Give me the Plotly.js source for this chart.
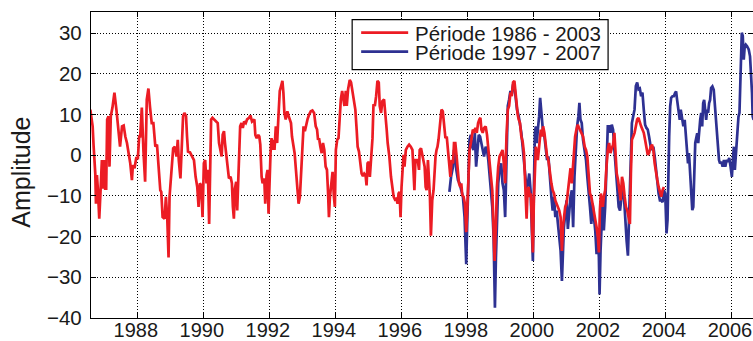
<!DOCTYPE html>
<html>
<head>
<meta charset="utf-8">
<script src="https://cdn.plot.ly/plotly-3.0.1.min.js"></script>
<style>
  html, body { margin: 0; padding: 0; background: #ffffff; }
  #chart { width: 753px; height: 341px; }
</style>
</head>
<body>
<div id="chart"></div>
<script>
// Series 1: Période 1986 - 2003 (decimal years, amplitude)
const redYears = [
  1986.56,1986.63,1986.66,1986.71,1986.73,1986.76,1986.79,1986.83,1986.87,1986.91,1986.94,1986.98,
  1987.01,1987.04,1987.07,1987.11,1987.14,1987.18,1987.23,1987.29,1987.35,1987.41,1987.46,1987.52,
  1987.57,1987.62,1987.67,1987.72,1987.77,1987.82,1987.85,1987.90,1987.95,
  1988.00,1988.04,1988.07,1988.12,1988.17,1988.22,1988.27,1988.32,1988.37,1988.42,1988.47,1988.53,
  1988.58,1988.63,1988.68,1988.71,1988.75,1988.81,1988.85,1988.89,1988.93,1988.96,
  1989.02,1989.07,1989.12,1989.17,1989.21,1989.24,1989.29,1989.33,1989.37,1989.41,1989.46,1989.49,
  1989.52,1989.58,1989.65,1989.70,1989.75,1989.80,1989.84,1989.88,1989.92,1989.96,
  1990.00,1990.04,1990.08,1990.12,1990.16,1990.19,1990.22,1990.26,1990.32,1990.38,1990.42,1990.46,
  1990.51,1990.54,1990.57,1990.61,1990.64,1990.68,1990.73,1990.76,1990.81,1990.85,1990.88,1990.91,
  1990.94,1990.98,1991.01,1991.04,1991.07,1991.10,1991.14,1991.18,1991.22,1991.27,1991.31,1991.37,
  1991.41,1991.46,
  1991.53,1991.56,1991.60,1991.65,1991.68,1991.71,1991.75,1991.78,1991.83,1991.86,1991.90,1991.93,
  1991.96,1991.99,1992.02,1992.05,1992.08,1992.11,1992.14,1992.18,1992.22,1992.26,1992.30,1992.34,
  1992.38,1992.41,1992.44,1992.48,1992.53,1992.57,1992.61,1992.64,1992.67,1992.71,1992.75,1992.79,
  1992.83,1992.87,1992.91,1992.95,1992.99,1993.02,1993.06,1993.10,1993.14,1993.19,1993.24,1993.29,
  1993.34,1993.39,1993.43,1993.46,1993.49,1993.53,1993.57,1993.61,1993.65,1993.69,1993.73,1993.76,
  1993.79,1993.82,1993.86,1993.90,1993.94,1993.97,1994.00,
  1994.04,1994.08,1994.11,1994.15,1994.19,1994.23,1994.26,1994.30,1994.33,1994.37,1994.42,1994.46,
  1994.51,1994.55,1994.59,1994.63,1994.66,1994.70,1994.74,1994.78,1994.82,1994.86,1994.90,1994.93,
  1994.96,1995.00,1995.03,1995.07,1995.11,1995.14,1995.18,1995.22,1995.26,1995.30,1995.33,1995.37,
  1995.41,1995.46,1995.49,1995.54,1995.57,1995.62,1995.67,1995.71,1995.75,1995.79,1995.83,1995.87,
  1995.90,1995.93,1995.96,1995.99,1996.03,1996.05,1996.08,1996.12,1996.17,1996.22,1996.27,1996.32,
  1996.35,1996.38,1996.41,
  1996.48,1996.52,1996.54,1996.58,1996.62,1996.66,1996.69,1996.72,1996.75,1996.79,1996.82,1996.85,
  1996.88,1996.92,1996.96,1996.99,1997.02,1997.05,1997.08,1997.11,1997.14,1997.17,1997.20,1997.24,
  1997.28,1997.32,1997.36,1997.40,1997.44,1997.47,1997.51,1997.55,1997.58,1997.62,1997.65,1997.69,
  1997.73,1997.77,1997.80,1997.83,1997.87,1997.91,1997.95,1997.98,1998.02,1998.05,1998.09,1998.12,
  1998.15,1998.19,1998.23,1998.27,1998.31,1998.35,1998.38,1998.41,1998.45,1998.49,1998.54,1998.58,
  1998.62,1998.66,1998.70,1998.74,1998.78,1998.81,1998.85,1998.88,1998.92,1998.96,
  1999.01,1999.05,1999.09,1999.13,1999.17,1999.21,1999.25,1999.29,1999.33,1999.37,1999.41,1999.44,
  1999.47,1999.51,1999.54,1999.58,1999.62,1999.66,1999.70,1999.74,1999.78,1999.81,1999.84,1999.88,
  1999.91,1999.94,1999.97,2000.00,2000.03,2000.06,2000.09,2000.12,2000.15,2000.18,2000.21,2000.24,
  2000.28,2000.32,2000.36,2000.40,2000.44,2000.48,2000.53,2000.57,2000.61,2000.65,2000.69,2000.73,
  2000.77,2000.81,2000.85,2000.88,2000.91,2000.95,2000.99,2001.03,2001.07,2001.11,2001.15,2001.18,
  2001.21,2001.25,2001.29,2001.33,2001.37,2001.41,2001.45,
  2001.49,2001.54,2001.58,2001.62,2001.66,2001.70,2001.74,2001.78,2001.82,2001.86,2001.90,2001.94,
  2001.97,2002.00,2002.03,2002.06,2002.09,2002.12,2002.16,2002.20,2002.24,2002.28,2002.32,2002.36,
  2002.40,2002.44,2002.47,2002.51,2002.55,2002.59,2002.63,2002.67,2002.71,2002.75,2002.79,2002.83,
  2002.87,2002.91,2002.94,2002.97,2003.01,2003.05,2003.09,2003.13,2003.17,2003.21,2003.25,2003.29,
  2003.33,2003.37,2003.41,2003.45,2003.49,2003.54,2003.58,2003.62,2003.66,2003.70,2003.74,2003.78,
  2003.82,2003.86,2003.90,2003.94
];
const redValues = [
  11.2,7.1,2.1,-4.5,-11.9,-4.9,-8.6,-15.6,-8.6,-1.2,-8.2,-1.2,
  -8.2,-8.2,8.8,9.6,-2.8,9.6,11.7,15.4,11.2,6.3,2.1,7.1,
  7.3,4.6,3.0,0.5,-2.0,-6.1,-2.4,-3.2,-0.7,
  -0.7,4.6,4.6,11.7,0.9,-6.5,13.7,16.4,11.7,7.9,7.9,2.1,
  2.6,-2.8,-8.6,-9.0,-15.2,-15.6,-10.2,-15.2,-25.1,-10.2,
  -2.8,1.7,2.1,-0.3,3.8,-1.2,-5.7,4.6,9.6,10.4,9.6,4.6,
  0.9,0.7,-0.3,-1.2,-5.3,-7.8,-12.7,-6.9,-7.4,-15.2,
  -2.0,-1.2,-6.9,-3.6,-16.9,2.1,8.8,9.2,8.8,8.3,7.9,3.0,
  0.9,-0.3,5.0,5.9,3.0,-0.3,-2.8,-5.7,-5.3,-6.9,-12.7,-15.6,
  -8.2,-6.5,-13.6,-5.3,3.0,7.1,7.9,6.7,8.3,7.9,8.8,9.2,
  9.8,8.3,
  8.8,5.0,4.2,5.0,4.6,2.6,-5.3,-6.9,-5.7,-11.9,-4.9,-3.6,
  -14.4,-4.5,0.5,4.2,1.3,3.8,1.3,7.1,3.0,9.6,15.8,17.0,
  18.3,15.4,10.4,8.8,10.8,9.6,8.3,7.9,4.6,2.1,0.5,-3.6,
  -8.6,-11.9,-10.2,-3.6,1.3,7.1,5.9,7.9,8.8,10.0,10.8,11.0,
  10.4,7.1,6.3,3.8,4.2,2.1,0.5,3.0,1.3,-2.8,-3.6,-8.6,
  -15.2,-10.2,-6.1,-4.1,-10.2,-12.7,1.3,
  3.8,4.2,10.0,13.7,15.8,12.9,12.1,15.8,12.1,16.2,18.5,17.9,
  15.4,12.9,11.2,6.3,2.1,0.9,-1.2,-4.5,-5.1,-4.5,-4.9,-7.4,
  -2.0,-1.6,-5.3,-0.3,4.2,12.5,12.1,14.5,18.3,17.9,12.1,10.4,
  13.3,13.7,10.0,6.3,3.0,-0.3,-5.3,-8.6,-10.2,-10.9,-10.7,-11.9,
  -9.4,-9.0,-15.2,-7.8,-0.3,0.1,-2.8,1.3,2.1,2.6,2.1,1.3,
  -3.6,-8.6,-1.2,
  -1.2,-3.6,1.3,1.7,-0.3,-1.2,-2.8,-7.8,-8.6,-1.2,-6.5,-10.2,
  -19.8,-11.1,-8.6,-3.6,-0.3,1.3,2.1,3.8,6.3,10.4,11.2,10.8,
  7.1,4.2,4.6,1.3,-3.6,-5.3,-1.2,-2.0,3.0,3.0,0.5,-3.6,
  -6.9,-7.8,-6.9,-9.8,-10.2,-11.9,-18.9,-13.6,-5.3,1.3,3.0,4.6,
  6.3,5.9,6.7,5.5,7.9,8.8,9.2,6.3,5.5,6.7,7.1,5.0,
  2.1,-1.2,-5.3,-8.6,-16.9,-26.0,-16.9,-7.8,-2.8,-0.3,
  0.5,1.3,-2.0,-6.9,4.6,11.2,12.1,15.4,14.5,17.9,18.3,15.4,
  12.1,10.0,8.8,7.9,4.6,3.4,0.5,-6.9,-15.6,-8.6,-7.8,-10.2,
  -9.4,-16.9,-23.9,-11.1,-2.0,2.1,0.5,-1.2,1.3,3.8,6.3,4.6,
  7.1,5.5,3.0,-0.3,-1.2,-4.5,-6.9,-8.6,-9.4,-11.1,-11.9,-12.7,
  -13.6,-15.2,-23.5,-17.7,-15.2,-12.7,-11.9,-8.6,-5.3,-3.2,-6.9,-3.6,
  1.3,4.6,6.3,7.5,6.7,5.9,5.0,
  4.6,2.1,1.3,-0.3,-5.3,-9.4,-10.2,-11.9,-13.6,-15.2,-17.7,-20.2,
  -23.9,-13.6,-9.4,-11.1,-12.7,-10.2,-8.6,-2.8,1.3,3.0,0.5,1.7,
  2.6,5.5,1.3,-4.5,-6.1,-8.6,-11.1,-5.3,-6.9,-10.2,-12.7,-13.6,
  -15.2,-16.9,-4.5,3.8,4.6,5.5,7.1,8.8,9.2,7.9,7.1,6.3,
  5.5,3.8,1.3,0.1,0.5,2.1,2.6,1.3,-2.0,-4.5,-6.1,-7.8,
  -9.4,-10.2,-8.6,-7.8
];

// Series 2: Période 1997 - 2007
const blueYears = [
  1997.44,1997.49,1997.55,1997.58,1997.62,1997.65,1997.70,1997.75,1997.80,1997.85,1997.90,1997.95,
  1997.98,1998.02,1998.05,1998.09,1998.13,1998.17,1998.21,1998.25,1998.29,1998.33,1998.37,1998.41,
  1998.45,1998.49,1998.54,1998.58,1998.62,1998.66,1998.70,1998.74,1998.78,1998.82,1998.85,1998.88,
  1998.92,1998.96,
  1999.01,1999.05,1999.09,1999.13,1999.17,1999.21,1999.25,1999.29,1999.33,1999.37,1999.41,1999.45,
  1999.49,1999.54,1999.58,1999.62,1999.66,1999.70,1999.74,1999.78,1999.82,1999.86,1999.90,1999.94,
  1999.97,2000.00,2000.03,2000.06,2000.09,2000.12,2000.16,2000.19,2000.22,2000.25,2000.28,2000.32,
  2000.36,2000.40,2000.44,2000.48,2000.53,2000.57,2000.61,2000.65,2000.69,2000.73,2000.77,2000.81,
  2000.85,2000.88,2000.91,2000.95,2000.99,2001.03,2001.07,2001.11,2001.15,2001.19,2001.23,2001.27,
  2001.31,2001.35,2001.38,2001.41,2001.45,
  2001.49,2001.54,2001.58,2001.62,2001.66,2001.70,2001.74,2001.78,2001.82,2001.86,2001.90,2001.94,
  2001.97,2001.99,2002.02,2002.05,2002.08,2002.12,2002.16,2002.20,2002.24,2002.28,2002.32,2002.36,
  2002.40,2002.44,2002.48,2002.53,2002.57,2002.61,2002.65,2002.69,2002.73,2002.77,2002.81,2002.85,
  2002.89,2002.93,2002.97,2003.01,2003.05,2003.09,2003.13,2003.17,2003.21,2003.25,2003.29,2003.33,
  2003.37,2003.41,2003.45,2003.49,2003.54,2003.58,2003.62,2003.66,2003.70,2003.74,2003.78,2003.82,
  2003.86,2003.90,2003.94,
  2003.98,2004.02,2004.05,2004.07,2004.10,2004.13,2004.16,2004.20,2004.24,2004.28,2004.31,2004.34,
  2004.38,2004.42,2004.45,2004.48,2004.53,2004.57,2004.61,2004.64,2004.67,2004.70,2004.73,2004.77,
  2004.80,2004.83,2004.86,2004.89,2004.92,2004.95,2004.98,2005.01,2005.04,2005.07,2005.10,2005.13,
  2005.16,2005.19,2005.22,2005.25,2005.28,2005.31,2005.34,2005.37,2005.41,2005.45,2005.48,2005.52,
  2005.55,2005.58,2005.61,2005.64,2005.68,2005.72,2005.76,2005.80,2005.84,2005.88,2005.92,2005.96,
  2006.00,2006.03,2006.06,2006.09,2006.12,2006.16,2006.20,2006.23,2006.26,2006.28,2006.30,2006.33,
  2006.36,2006.39,2006.42,2006.46,2006.51,2006.55,2006.58,2006.61,2006.63,2006.66
];
const blueValues = [
  -9.0,-5.3,-2.8,1.3,-0.3,-3.6,-6.1,-6.9,-8.6,-10.2,-15.2,-26.8,
  -16.9,-2.8,3.8,5.0,2.1,1.3,5.5,-2.8,1.3,5.0,4.6,3.0,
  1.3,-0.3,2.1,1.3,-1.2,-4.5,-9.4,-12.7,-20.2,-37.5,-25.1,-13.6,
  -6.9,-3.6,
  -2.0,-6.9,-8.6,-15.2,1.3,12.1,13.7,15.8,15.0,17.4,17.0,14.5,
  11.2,9.6,7.9,5.5,2.1,-2.0,-5.3,-8.6,-6.9,-4.5,-8.6,-17.7,
  -26.0,-8.6,5.5,7.1,3.0,6.3,9.6,14.1,11.2,7.9,5.5,4.6,
  2.1,-1.2,-0.3,-5.3,-10.2,-13.6,-10.2,-15.2,-13.6,-16.9,-20.2,-23.5,
  -30.9,-23.5,-17.7,-14.4,-11.1,-18.1,-13.6,-10.2,-8.6,-17.7,-5.3,3.0,
  7.1,9.6,12.9,8.8,7.9,
  3.8,1.3,-1.2,-5.3,-10.2,-12.7,-16.9,-11.9,-15.2,-18.5,-24.3,-20.2,
  -25.1,-34.2,-23.5,-16.9,-11.9,-18.5,-12.7,-2.8,7.1,7.1,5.5,7.5,
  6.3,1.3,-2.8,-8.6,-12.7,-13.6,-10.2,-7.8,-10.2,-16.9,-21.0,-24.7,
  -13.6,1.3,7.9,9.6,11.2,17.0,17.9,16.2,16.4,14.5,15.4,11.2,
  7.5,6.7,6.3,4.6,2.1,1.3,2.1,-0.3,-3.6,-6.9,-9.4,-11.1,
  -11.1,-11.5,-8.6,
  -9.4,-19.2,-15.9,-4.4,4.6,12.0,14.1,14.5,14.5,15.3,15.7,13.6,
  11.6,8.7,11.2,9.5,7.1,8.7,4.6,0.5,-2.0,0.5,-3.6,-8.5,
  -13.5,-12.7,-6.1,3.0,4.2,5.4,3.0,7.1,8.7,10.4,7.1,12.8,
  13.6,11.2,8.7,11.2,10.4,12.8,13.6,16.5,16.9,16.1,12.8,8.7,
  3.8,2.1,-1.2,-2.0,-1.6,-2.8,-1.2,-2.8,-1.2,-1.6,-0.7,-2.8,
  -5.3,-1.2,2.1,-3.6,0.5,3.8,9.5,10.4,16.9,25.1,30.1,29.3,
  23.5,26.8,27.2,26.8,26.0,24.3,21.0,15.3,9.5,8.7
];

const seriesNames = ["Période 1986 - 2003", "Période 1997 - 2007"];
const seriesColors = ["#ec1c24", "#2e3192"];
const xTickValues = [1988, 1990, 1992, 1994, 1996, 1998, 2000, 2002, 2004, 2006];
const xTickLabels = ["1988", "1990", "1992", "1994", "1996", "1998", "2000", "2002", "2004", "2006"];
const yTickValues = [-40, -30, -20, -10, 0, 10, 20, 30];
const yAxisTitle = "Amplitude";

const font = "Liberation Sans, Arial, Helvetica, sans-serif";
const textColor = "#1a1a1a";

const traces = [
  { x: redYears, y: redValues, name: seriesNames[0], type: "scatter", mode: "lines",
    line: { color: seriesColors[0], width: 2.7 }, showlegend: false },
  { x: blueYears, y: blueValues, name: seriesNames[1], type: "scatter", mode: "lines",
    line: { color: seriesColors[1], width: 2.7 }, showlegend: false }
];
// draw blue beneath red where they overlap
const data = [traces[1], traces[0]];

// Legend box drawn in paper coordinates (top-centre of plot)
const legendBox = { x0: 0.3945, x1: 0.7811, y0: 0.8114, y1: 0.9748 };
const legendRowsY = [0.9324, 0.8703];
const legendLineX = [0.4081, 0.4791];
const legendTextX = 0.4866;

const shapes = [
  { type: "rect", xref: "paper", yref: "paper",
    x0: legendBox.x0, x1: legendBox.x1, y0: legendBox.y0, y1: legendBox.y1,
    fillcolor: "#fff", line: { color: "#000", width: 1.2 }, layer: "above" }
];
const annotations = [];
seriesNames.forEach((nm, i) => {
  shapes.push({ type: "line", xref: "paper", yref: "paper",
    x0: legendLineX[0], x1: legendLineX[1], y0: legendRowsY[i], y1: legendRowsY[i],
    line: { color: seriesColors[i], width: 2.7 }, layer: "above" });
  annotations.push({ xref: "paper", yref: "paper", x: legendTextX, y: legendRowsY[i],
    xanchor: "left", yanchor: "middle", showarrow: false, text: nm, height: 18,
    font: { family: font, size: 20.5, color: textColor } });
});
// y axis title, placed to the left of the tick labels
annotations.push({ xref: "paper", yref: "paper", x: -0.1052, y: 0.476,
  xanchor: "center", yanchor: "middle", showarrow: false, textangle: -90,
  text: yAxisTitle, font: { family: font, size: 25, color: textColor } });

const axisCommon = {
  showline: true, linecolor: "#000", linewidth: 1.2, mirror: "allticks",
  ticks: "inside", ticklen: 5, tickcolor: "#000", tickwidth: 1,
  showgrid: true, gridcolor: "#000", gridwidth: 1, griddash: "1px,2px",
  zeroline: false, tickfont: { family: font, size: 20.5, color: textColor },
  ticklabeloverflow: "allow"
};

const layout = {
  width: 753, height: 341,
  margin: { l: 91, r: 0, t: 12, b: 23, pad: 0 },
  paper_bgcolor: "#fff", plot_bgcolor: "#fff",
  showlegend: false,
  shapes: shapes,
  annotations: annotations,
  xaxis: Object.assign({}, axisCommon, {
    range: [1986.58, 2006.64], tickmode: "array", tickvals: xTickValues, ticktext: xTickLabels,
    ticklabelstandoff: -6, ticklabelshift: -2,
    tickfont: { family: font, size: 20, color: textColor }
  }),
  yaxis: Object.assign({}, axisCommon, {
    range: [-40, 35.2], tickmode: "array", tickvals: yTickValues,
    ticklabelstandoff: 4
  })
};

Plotly.newPlot("chart", data, layout, { displayModeBar: false, staticPlot: true });
</script>
</body>
</html>
